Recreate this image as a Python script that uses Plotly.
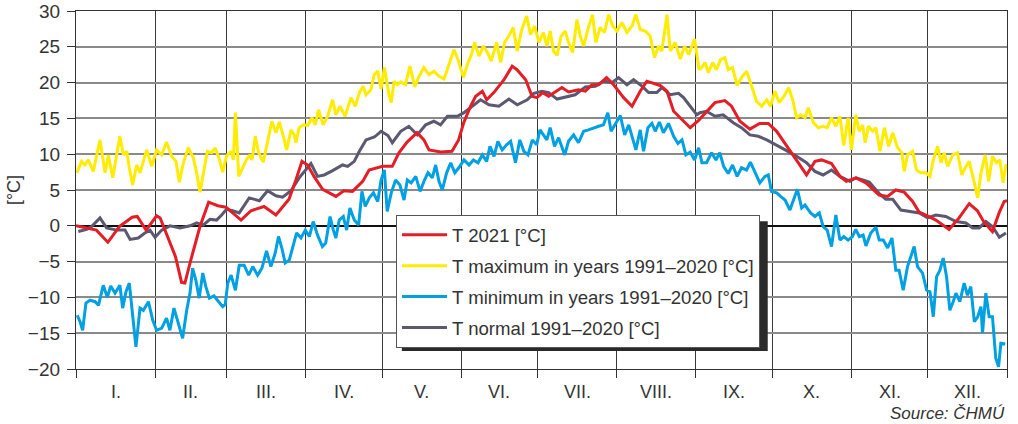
import plotly.graph_objects as go

# ---------------- data (day of year 0..365, temperature °C) ----------------
red_day = [0, 8, 12.5, 17, 22, 24, 27.5, 31.6, 33, 36, 39, 41.4, 42.7, 45, 48.6, 52, 55.6,
           58.8, 61.4, 64.7, 68.6, 73.7, 78.4, 83.5, 86.2, 88.6, 90.8, 93.3, 96.7, 101.9, 105,
           108.4, 112.4, 114.9, 120.2, 124, 126.6, 129.8, 133.7, 136.4, 138.4, 143, 147.4, 150,
           152, 154.7, 156.7, 159.3, 161, 163.8, 167.8, 171, 172.9, 176.3, 178.8, 180.7, 183,
           185.3, 190.5, 193.1, 197, 199.7, 202.3, 204.9, 208, 210.8, 214.7, 218, 221.2, 223.8,
           229, 231.7, 234.3, 237.6, 240.8, 244, 247.2, 250.5, 254.4, 257, 260.3, 264.2, 268,
           271.4, 274.7, 278.6, 283.2, 286.4, 289.7, 292.3, 296.2, 299.5, 302, 305.8, 309.7,
           314.9, 318.2, 321.4, 324.7, 328, 330.6, 333.2, 337.1, 342.3, 346.2, 350.2, 353.4,
           356, 359.3, 361.9, 363.9, 365]
red_t = [0.0, -0.6, -2.3, -0.1, 1.2, 1.3, -0.6, 1.4, 1.1, -1.5, -4.3, -7.9, -8.0, -4.8, -0.1,
         3.3, 2.8, 2.6, 1.8, 0.8, 2.1, 2.7, 1.5, 3.7, 6.4, 9.0, 8.5, 6.9, 5.1, 4.1, 4.9, 4.8, 6.2,
         7.8, 8.3, 8.3, 10.2, 11.7, 13.0, 12.0, 10.6, 10.3, 10.4, 12.0, 14.4, 16.7, 18.1, 18.8,
         17.6, 18.6, 20.4, 22.3, 21.8, 20.4, 18.1, 17.9, 18.6, 18.1, 19.3, 18.7, 19.0, 18.8, 19.7,
         19.7, 20.7, 19.7, 17.9, 16.7, 18.8, 20.2, 19.6, 18.8, 16.0, 14.8, 13.7, 14.7, 16.0, 17.2,
         17.5, 16.7, 14.6, 13.5, 14.3, 14.3, 13.2, 11.1, 8.8, 7.1, 9.0, 9.2, 8.7, 6.9, 6.2, 6.7,
         6.0, 4.3, 4.1, 5.0, 4.7, 3.4, 1.9, 1.5, 0.8, -0.5, 1.1, 3.1, 2.1, 0.5, -0.8, 1.8, 3.4, 3.5]

max_day = [0.3, 2.2, 3.5, 4.8, 6.8, 9.4, 11.4, 12.7, 14.4, 15.9, 17.2, 18.6, 19.9, 20.9, 22.2,
           23.8, 25.1, 27.7, 29.7, 31.6, 33.6, 35.5, 37.5, 39.2, 40.5, 42.1, 44.0, 46.0, 47.3,
           48.6, 49.9, 51.5, 53.2, 54.5, 56.2, 57.5, 59.0, 60.8, 61.7, 62.5, 63.8, 65.3, 66.9,
           68.2, 69.0, 70.3, 71.6, 73.4, 75.1, 76.8, 78.4, 79.7, 81.3, 82.6, 84.3, 85.6, 86.2,
           87.5, 89.1, 90.8, 92.5, 93.8, 95.1, 96.9, 98.7, 100.6, 101.9, 103.5, 105.5, 107.8,
           109.5, 111.1, 112.6, 113.7, 115.6, 116.9, 118.3, 119.6, 120.9, 122.7, 123.6, 124.7,
           126.0, 127.3, 129.2, 130.9, 132.8, 134.5, 136.4, 138.4, 140.3, 142.3, 144.3, 146.2,
           148.2, 149.8, 151.9, 153.4, 155.0, 156.3, 158.0, 159.7, 161.3, 162.8, 164.9, 166.5,
           168.0, 169.7, 171.4, 173.0, 174.6, 176.7, 178.2, 179.8, 181.5, 183.2, 184.6, 185.9,
           187.2, 188.6, 190.2, 191.8, 193.1, 194.7, 196.4, 197.7, 199.0, 200.9, 202.5, 203.8,
           205.5, 207.2, 208.8, 210.4, 212.1, 214.0, 216.0, 218.0, 219.5, 221.2, 223.2, 225.1,
           226.8, 228.4, 229.7, 231.7, 233.0, 234.9, 236.9, 238.6, 240.2, 242.5, 244.3, 245.3,
           246.6, 247.9, 249.6, 251.1, 252.7, 254.4, 255.7, 257.4, 259.2, 260.9, 262.9, 264.9,
           266.8, 268.8, 270.8, 272.3, 274.0, 275.7, 277.6, 279.4, 281.0, 282.5, 284.1, 285.8,
           287.1, 289.1, 291.0, 292.9, 294.5, 296.2, 297.9, 299.5, 301.0, 302.7, 304.0, 305.7,
           307.1, 308.4, 309.4, 310.7, 312.3, 313.6, 315.2, 316.9, 318.6, 320.2, 322.1, 323.8,
           324.7, 326.0, 328.0, 329.5, 331.2, 333.2, 334.8, 336.1, 337.8, 339.1, 340.4, 341.7,
           343.7, 345.6, 347.3, 348.9, 350.2, 352.2, 353.5, 354.8, 356.5, 357.8, 359.3, 360.9,
           362.2, 363.5, 364.6]
max_t = [7.4, 9.0, 8.5, 9.2, 7.6, 12.0, 7.4, 9.9, 6.7, 9.7, 12.5, 9.9, 10.4, 8.1, 5.7, 8.5, 7.4,
         10.6, 8.3, 10.6, 9.9, 11.7, 9.7, 9.0, 6.1, 8.8, 10.9, 9.5, 7.4, 4.7, 7.1, 10.4, 10.2, 10.9,
         9.3, 7.5, 9.7, 10.4, 9.2, 15.8, 6.9, 8.1, 9.3, 9.9, 9.2, 12.5, 10.2, 8.9, 11.6, 14.6, 13.0,
         14.5, 12.5, 10.6, 13.4, 12.7, 11.6, 13.7, 14.1, 14.0, 15.1, 14.1, 16.2, 14.1, 15.3, 17.6,
         15.5, 16.7, 15.3, 17.9, 16.7, 18.6, 19.5, 18.3, 19.0, 21.1, 21.6, 19.1, 22.1, 18.3, 17.2,
         20.2, 19.7, 20.1, 19.7, 22.3, 19.4, 20.9, 22.1, 21.1, 21.6, 20.9, 20.5, 22.5, 24.6, 23.2,
         20.7, 22.5, 23.9, 25.6, 23.7, 25.1, 24.2, 23.0, 25.6, 22.8, 25.6, 26.5, 27.7, 24.4, 27.2,
         29.3, 26.7, 27.9, 25.6, 27.0, 25.1, 27.2, 24.4, 23.8, 26.5, 27.2, 25.6, 24.2, 28.8, 26.5,
         25.1, 27.7, 29.5, 25.6, 27.7, 27.0, 29.5, 27.9, 27.2, 28.4, 27.0, 27.9, 29.5, 27.4, 27.2,
         26.5, 23.5, 25.1, 24.4, 29.5, 24.4, 25.6, 23.3, 25.1, 23.9, 26.1, 21.8, 22.1, 22.8, 21.4,
         22.8, 21.8, 23.2, 23.5, 21.8, 22.1, 19.6, 20.7, 21.6, 19.5, 17.4, 16.7, 17.6, 16.7, 18.8,
         17.2, 18.1, 19.3, 17.6, 15.1, 15.5, 15.1, 16.5, 14.4, 13.7, 13.9, 13.7, 15.1, 13.9, 15.3,
         11.2, 15.1, 10.6, 15.5, 13.2, 14.1, 11.6, 13.9, 13.2, 13.7, 10.4, 13.7, 11.1, 13.0, 10.9,
         10.2, 7.6, 9.9, 10.4, 7.8, 7.4, 7.4, 6.9, 9.2, 11.1, 8.8, 10.2, 8.3, 9.9, 10.2, 7.1, 8.3,
         9.0, 6.0, 3.9, 7.4, 9.9, 6.2, 9.7, 8.8, 9.2, 6.0, 8.6]

min_day = [0.5, 1.6, 2.6, 3.9, 5.5, 7.5, 8.8, 10.7, 12.3, 13.6, 15.3, 17.2, 18.3, 19.6, 20.9,
           22.2, 23.5, 25.1, 26.4, 28.4, 30.1, 31.6, 33.6, 35.5, 36.8, 38.4, 39.7, 41.8, 43.4,
           44.7, 45.7, 47.0, 48.3, 49.7, 50.9, 52.3, 54.1, 55.8, 57.5, 58.5, 59.5, 60.8, 62.5,
           64.0, 65.9, 67.7, 69.3, 71.2, 72.9, 74.7, 76.4, 78.1, 79.4, 80.7, 82.0, 83.6, 84.9,
           86.5, 88.2, 89.9, 91.5, 93.0, 94.7, 96.6, 97.9, 99.6, 100.9, 101.9, 103.2, 104.8,
           106.1, 107.4, 109.1, 110.8, 112.1, 113.4, 115.0, 116.6, 118.3, 119.6, 120.9, 122.0,
           123.6, 125.3, 127.0, 128.6, 129.9, 131.4, 133.2, 134.9, 136.4, 138.0, 139.7, 141.0,
           142.3, 143.6, 145.3, 146.9, 148.5, 150.1, 152.1, 154.1, 155.8, 157.6, 159.3, 161.0,
           162.3, 163.9, 165.4, 167.1, 168.8, 170.4, 172.3, 174.0, 175.6, 177.2, 178.9, 180.6,
           181.9, 183.2, 184.6, 185.9, 187.6, 189.2, 191.6, 193.1, 195.1, 197.0, 199.0, 200.9,
           202.9, 204.9, 206.8, 208.5, 209.8, 211.4, 213.4, 215.1, 216.7, 218.0, 219.5, 221.2,
           222.5, 224.2, 225.8, 227.1, 228.7, 230.3, 232.3, 234.3, 236.0, 237.6, 239.1, 240.8,
           242.5, 244.1, 245.4, 247.2, 249.2, 250.9, 252.4, 253.9, 255.7, 257.4, 259.2, 260.9,
           262.9, 264.4, 266.2, 268.1, 270.1, 271.4, 272.7, 274.7, 276.2, 278.0, 279.9, 281.2,
           282.8, 284.5, 285.8, 288.0, 289.7, 291.4, 292.9, 294.5, 296.2, 297.9, 299.5, 301.0,
           302.7, 304.4, 305.7, 307.1, 308.6, 309.7, 311.6, 313.6, 314.9, 316.5, 318.2, 319.9,
           321.4, 322.7, 324.3, 326.0, 327.3, 328.6, 329.9, 331.9, 333.5, 334.8, 336.1, 337.4,
           338.7, 340.0, 341.3, 342.6, 343.9, 345.0, 346.5, 348.2, 349.5, 350.8, 352.2, 353.5,
           354.8, 355.4, 356.7, 358.0, 359.3, 360.6, 361.7, 362.6, 364.3]
min_t = [-12.5, -13.4, -14.6, -10.8, -10.4, -10.6, -11.1, -8.3, -10.0, -8.4, -9.4, -8.3, -11.5,
         -9.2, -8.0, -12.2, -16.9, -11.5, -11.8, -10.6, -13.2, -14.6, -14.3, -12.9, -14.6, -11.5,
         -13.2, -15.7, -11.8, -9.4, -5.9, -7.6, -10.1, -6.6, -8.5, -10.1, -9.8, -10.6, -11.3,
         -11.0, -8.0, -6.9, -9.0, -5.5, -5.5, -6.9, -5.7, -6.9, -5.9, -3.5, -5.7, -3.8, -1.5,
         -3.1, -5.2, -4.8, -3.1, -1.0, -1.7, -0.6, -1.5, 0.6, -1.3, -2.9, -2.4, 1.3, -0.6, -1.7,
         0.8, 1.3, -0.6, 2.5, 0.8, 0.1, 4.8, 2.7, 3.9, 4.6, 3.4, 6.4, 7.8, 2.0, 4.6, 6.4, 5.7,
         3.6, 6.4, 6.0, 6.9, 4.8, 6.2, 7.4, 6.7, 8.5, 6.2, 5.0, 7.4, 8.8, 7.4, 8.1, 9.2, 8.5,
         9.2, 8.8, 9.9, 9.0, 11.1, 9.7, 11.8, 10.6, 11.3, 11.8, 8.8, 12.0, 10.4, 9.9, 12.0, 11.3,
         13.4, 12.7, 12.0, 13.7, 11.1, 12.3, 9.9, 11.8, 12.7, 11.6, 13.2, 13.4, 13.7, 13.9, 14.1,
         15.8, 13.2, 14.1, 15.4, 12.7, 14.1, 12.5, 10.6, 13.4, 10.4, 13.7, 14.3, 13.2, 14.5, 13.0,
         14.3, 12.5, 11.5, 12.0, 9.9, 10.3, 9.2, 10.9, 8.8, 8.8, 10.2, 9.2, 10.2, 8.3, 7.3, 8.5,
         6.9, 8.1, 7.8, 8.9, 7.4, 6.0, 6.9, 7.1, 4.8, 4.6, 4.1, 3.6, 2.2, 3.6, 5.1, 2.5, 2.9, 1.8,
         1.3, 1.8, -0.1, -0.6, -2.9, 1.5, -2.0, -1.5, -2.0, -1.5, -0.5, -1.5, -1.3, -2.8, -1.0,
         -0.2, -2.0, -2.0, -3.1, -1.7, -6.2, -6.2, -9.0, -5.7, -4.3, -2.9, -5.7, -6.6, -9.0,
         -9.2, -12.7, -7.1, -6.2, -4.5, -7.1, -11.8, -10.6, -9.4, -10.6, -8.0, -9.7, -8.5, -13.4,
         -12.7, -11.3, -15.0, -9.4, -12.7, -12.7, -18.5, -19.7, -16.4, -16.5]

norm_day = [0.9, 4.2, 6.1, 9.4, 12.0, 15.9, 19.2, 21.2, 24.4, 27.0, 29.0, 31.0, 33.6, 36.8,
            40.8, 44.7, 47.3, 49.9, 52.5, 55.1, 57.1, 59.0, 61.4, 64.0, 67.9, 71.9, 75.1, 78.4,
            81.0, 84.3, 87.5, 92.1, 94.7, 97.3, 100.6, 104.5, 106.5, 109.1, 111.1, 113.7, 117.0,
            119.6, 122.3, 124.0, 127.3, 130.5, 133.8, 137.1, 140.3, 142.9, 145.6, 149.5, 152.1,
            154.7, 158.6, 161.9, 165.8, 169.7, 173.0, 176.9, 179.5, 182.7, 185.3, 188.6, 191.8,
            195.7, 199.7, 203.6, 206.8, 210.1, 212.7, 216.0, 218.6, 221.9, 224.5, 227.7, 229.7,
            233.0, 236.2, 238.2, 240.8, 243.4, 244.6, 247.2, 250.5, 253.7, 257.7, 260.9, 264.2,
            267.5, 270.8, 274.7, 278.6, 282.5, 286.4, 289.7, 292.9, 296.2, 299.5, 303.4, 305.8,
            311.0, 314.9, 317.5, 320.2, 323.4, 326.7, 330.6, 333.9, 337.1, 341.0, 345.0, 348.9,
            351.5, 354.1, 356.7, 359.3, 362.0, 364.6]
norm_t = [-0.8, -0.5, -0.1, 1.1, -0.3, -0.6, -0.6, -1.9, -1.7, -1.0, -0.6, -1.6, -0.6, 0.0,
          -0.3, 0.0, 0.4, 0.1, 0.9, 0.8, 1.5, 2.3, 2.1, 1.8, 3.9, 3.5, 4.9, 4.2, 4.0, 4.9, 6.7,
          8.7, 6.9, 7.1, 7.7, 8.5, 8.3, 9.0, 10.4, 12.0, 12.4, 13.2, 12.6, 11.6, 13.2, 13.9, 12.7,
          14.1, 14.6, 14.1, 15.3, 15.3, 15.8, 16.5, 17.6, 16.9, 16.7, 17.7, 16.9, 17.6, 18.5,
          18.8, 18.6, 17.7, 18.0, 18.3, 19.4, 19.5, 20.2, 20.0, 20.7, 19.7, 20.4, 19.5, 18.6,
          18.6, 19.3, 18.3, 18.5, 17.9, 16.7, 15.5, 15.8, 16.0, 15.3, 15.5, 14.4, 13.7, 12.7,
          12.5, 12.0, 11.3, 10.5, 9.7, 8.8, 7.6, 7.1, 7.8, 6.9, 6.2, 6.7, 6.1, 4.5, 3.7, 3.7,
          2.2, 2.0, 1.8, 1.1, 1.5, 1.3, 0.6, 0.4, -0.3, -0.3, 0.6, -0.1, -1.6, -1.0]

month_start = [0, 31, 59, 90, 120, 151, 181, 212, 243, 273, 304, 334, 365]
month_labels = ["I.", "II.", "III.", "IV.", "V.", "VI.", "VII.", "VIII.", "IX.", "X.", "XI.", "XII."]
y_ticks = [-20, -15, -10, -5, 0, 5, 10, 15, 20, 25, 30]

series = [
    # name, x, y, color, legend rank
    ("T maximum in years 1991–2020 [°C]", max_day, max_t, "#ffec00", 2),
    ("T minimum in years 1991–2020 [°C]", min_day, min_t, "#00a0e2", 3),
    ("T normal 1991–2020 [°C]", norm_day, norm_t, "#5b5872", 4),
    ("T 2021 [°C]", red_day, red_t, "#e31e26", 1),
]

FONT = "Liberation Sans, Arial, sans-serif"
TXT = "#333333"

fig = go.Figure()
for name, xs, ys, col, rank in series:
    fig.add_trace(go.Scatter(
        x=xs, y=ys, mode="lines", name=name,
        line=dict(color=col, width=3),
        legendgroup=name, legendrank=rank,
    ))

# month labels centred in each month
annotations = []
for i, lab in enumerate(month_labels):
    annotations.append(dict(
        x=(month_start[i] + month_start[i + 1]) / 2, xref="x",
        y=-0.064, yref="paper", text=lab, showarrow=False,
        xanchor="center", yanchor="middle",
        font=dict(family=FONT, size=18, color=TXT)))
annotations.append(dict(
    x=1.0, xref="paper", y=-0.123, yref="paper", text="<i>Source: ČHMÚ</i>",
    showarrow=False, xanchor="right", yanchor="middle",
    font=dict(family=FONT, size=17, color=TXT)))

# legend placement (paper coords) and its drop shadow
LX, LY = 0.3437, 0.430
shapes = [dict(type="rect", xref="paper", yref="paper",
               x0=0.350, x1=0.743, y0=0.050, y1=0.413,
               fillcolor="#2a2a2a", line=dict(width=0), layer="above")]

fig.update_layout(
    width=1018, height=424,
    margin=dict(l=76, r=11, t=11, b=55, autoexpand=False),
    paper_bgcolor="white", plot_bgcolor="white",
    font=dict(family=FONT, size=18, color=TXT),
    showlegend=True,
    legend=dict(x=LX, y=LY, xanchor="left", yanchor="top",
                bgcolor="white", bordercolor="#555555", borderwidth=1,
                font=dict(family=FONT, size=18.6, color=TXT),
                traceorder="grouped", tracegroupgap=3.8,
                itemwidth=45),
    xaxis=dict(range=[0, 365], tickmode="array", tickvals=month_start,
               showticklabels=False, ticks="outside", ticklen=8, tickcolor="#333333",
               tickwidth=1, showgrid=True, gridcolor="#3a3a3a", gridwidth=1.2,
               showline=True, linecolor="#333333", linewidth=1.2, mirror=True,
               zeroline=False, automargin=False),
    yaxis=dict(range=[-20, 30], tickmode="array", tickvals=y_ticks,
               ticks="outside", ticklen=8, tickcolor="#333333", tickwidth=1,
               tickfont=dict(family=FONT, size=19, color=TXT), ticklabelstandoff=3,
               showgrid=True, gridcolor="#8a8a8a", gridwidth=1.5,
               zeroline=True, zerolinecolor="#111111", zerolinewidth=2,
               showline=True, linecolor="#333333", linewidth=1.2, mirror=True,
               automargin=False,
               title=dict(text="[°C]", standoff=2,
                          font=dict(family=FONT, size=18, color=TXT))),
    annotations=annotations,
    shapes=shapes,
)

fig.write_html("out.html",
               config={"displayModeBar": False},
               post_script="document.body.style.margin='0';document.body.style.overflow='hidden';")
